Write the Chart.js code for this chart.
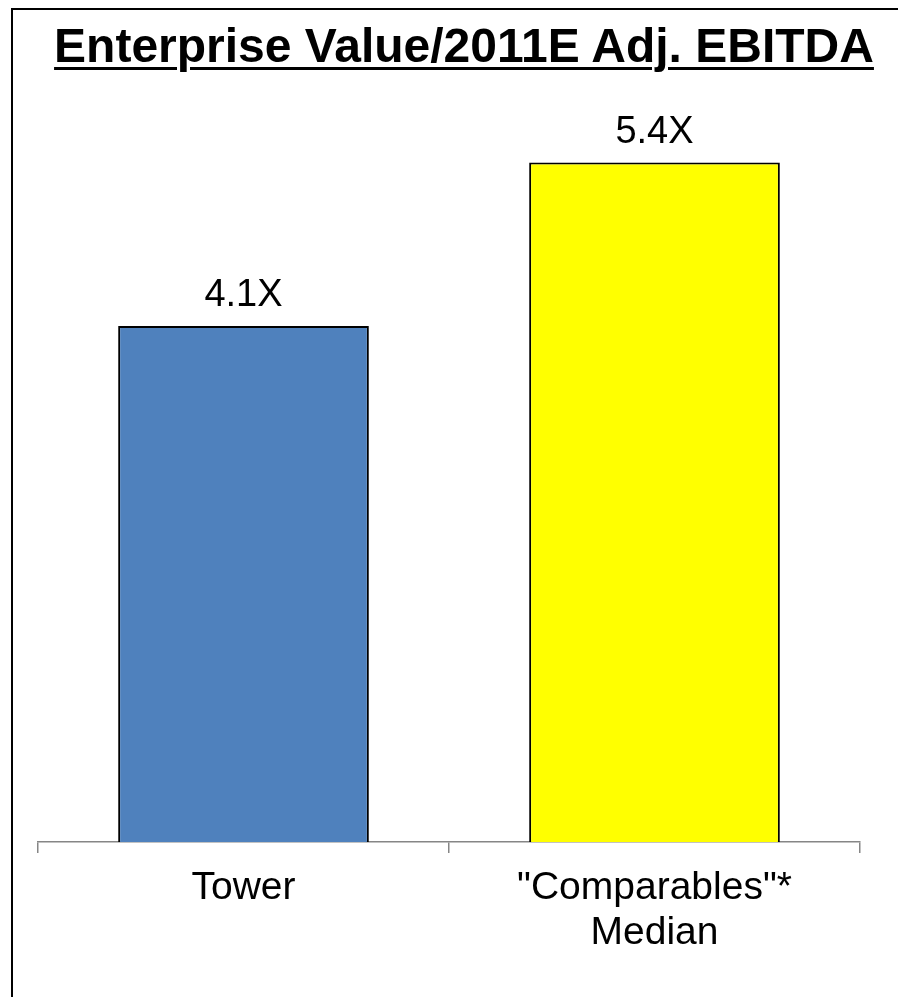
<!DOCTYPE html>
<html>
<head>
<meta charset="utf-8">
<title>Enterprise Value/2011E Adj. EBITDA</title>
<script src="https://cdn.jsdelivr.net/npm/chart.js@4/dist/chart.umd.min.js"></script>
<style>
  html, body { margin: 0; padding: 0; background: #fff; overflow: hidden; }
  body { width: 898px; height: 997px; position: relative; }
  .frame {
    position: absolute; left: 11px; top: 8px;
    width: 1000px; height: 1100px;
    border: 2px solid #000; box-sizing: border-box;
  }
  .title {
    position: absolute; left: 0; top: 22px; width: 928px;
    text-align: center;
    font: bold 48px "Liberation Sans", Arial, sans-serif;
    line-height: 48px;
    text-decoration: underline;
    text-decoration-thickness: 3px;
    text-underline-offset: 5px;
    color: #000;
  }
  #wrap { position: absolute; left: 0; top: 0; width: 898px; height: 997px; }
</style>
</head>
<body>
<div class="frame"></div>
<div id="wrap"><canvas id="chart"></canvas></div>
<div class="title">Enterprise Value/2011E Adj. EBITDA</div>
<script>
  // ---- data ----
  const categories = ['Tower', ['"Comparables"*', 'Median']];
  const multiples = [4.1, 5.4];
  const barColors = ['#4F81BD', '#FFFF00'];
  const valueLabels = ['4.1X', '5.4X'];

  const FONT = '"Liberation Sans", Arial, sans-serif';

  // value labels sitting just above each bar
  const barLabels = {
    id: 'barLabels',
    afterDatasetsDraw(chart) {
      const ctx = chart.ctx;
      const meta = chart.getDatasetMeta(0);
      ctx.save();
      ctx.font = '38px ' + FONT;
      ctx.fillStyle = '#000';
      ctx.textAlign = 'center';
      ctx.textBaseline = 'alphabetic';
      meta.data.forEach((bar, i) => {
        ctx.fillText(valueLabels[i], bar.x, bar.y - 20);
      });
      ctx.restore();
    }
  };

  new Chart(document.getElementById('chart'), {
    type: 'bar',
    data: {
      labels: categories,
      datasets: [{
        data: multiples,
        backgroundColor: barColors,
        borderColor: '#000',
        borderWidth: 2,
        barPercentage: 0.61,
        categoryPercentage: 1
      }]
    },
    options: {
      responsive: true,
      maintainAspectRatio: false,
      animation: false,
      layout: { padding: { top: 87, left: 38, right: 38, bottom: 0 } },
      plugins: {
        legend: { display: false },
        tooltip: { enabled: false }
      },
      scales: {
        y: { display: false, min: 0, max: 6 },
        x: {
          afterFit(scale) { scale.height = 155; },
          grid: {
            offset: true,
            drawOnChartArea: false,
            drawTicks: true,
            tickLength: 11,
            color: '#868686',
            lineWidth: 1.5
          },
          border: { display: true, color: '#868686', width: 1.5 },
          ticks: {
            color: '#000',
            padding: 12,
            maxRotation: 0,
            font: { family: FONT, size: 39, lineHeight: 1.17 }
          }
        }
      }
    },
    plugins: [barLabels]
  });
</script>
</body>
</html>
